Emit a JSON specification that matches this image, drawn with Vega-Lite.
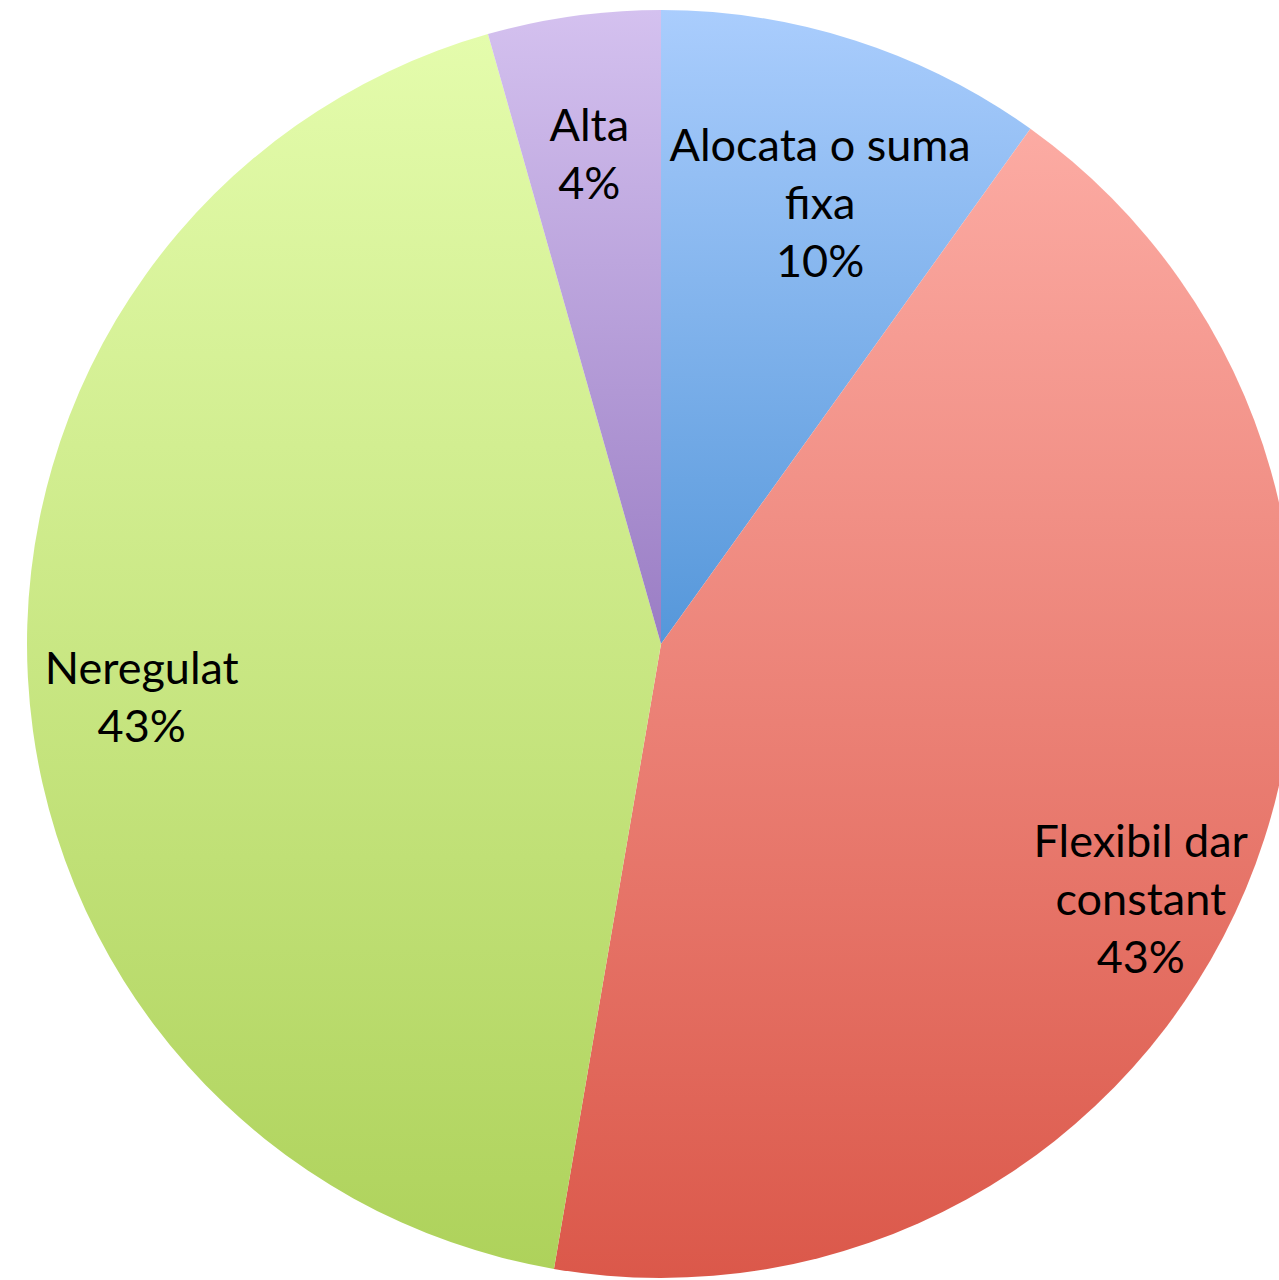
{
  "$schema": "https://vega.github.io/schema/vega-lite/v6.json",
  "width": 1279,
  "height": 1280,
  "autosize": {"type": "fit", "contains": "padding"},
  "padding": 0,
  "background": "white",
  "config": {"view": {"stroke": null}},
  "data": {
    "values": [
      {"idx": 1, "cat": "Alocata o suma fixa", "value": 9.9, "label": "Alocata o suma\nfixa\n10%"},
      {"idx": 2, "cat": "Flexibil dar constant", "value": 42.8, "label": "Flexibil dar\nconstant\n43%"},
      {"idx": 3, "cat": "Neregulat", "value": 42.9, "label": "Neregulat\n43%"},
      {"idx": 4, "cat": "Alta", "value": 4.4, "label": "Alta\n4%"}
    ]
  },
  "encoding": {
    "theta": {"field": "value", "type": "quantitative", "stack": true, "scale": {"range": [0, 6.283185307179586]}},
    "order": {"field": "idx", "type": "quantitative", "sort": "ascending"}
  },
  "layer": [
    {
      "mark": {"type": "arc", "outerRadius": 634, "x": 661, "y": 644},
      "encoding": {
        "fill": {
          "condition": [
            {"test": "datum.cat === 'Alocata o suma fixa'", "value": {"gradient": "linear", "x1": 0, "y1": 0, "x2": 0, "y2": 1, "stops": [{"offset": 0, "color": "#aacdfd"}, {"offset": 1, "color": "#5597da"}]}},
            {"test": "datum.cat === 'Flexibil dar constant'", "value": {"gradient": "linear", "x1": 0, "y1": 0, "x2": 0, "y2": 1, "stops": [{"offset": 0, "color": "#fcaba3"}, {"offset": 1, "color": "#db584a"}]}},
            {"test": "datum.cat === 'Neregulat'", "value": {"gradient": "linear", "x1": 0, "y1": 0, "x2": 0, "y2": 1, "stops": [{"offset": 0, "color": "#e4fcac"}, {"offset": 1, "color": "#aed25b"}]}}
          ],
          "value": {"gradient": "linear", "x1": 0, "y1": 0, "x2": 0, "y2": 1, "stops": [{"offset": 0, "color": "#d4c1ef"}, {"offset": 1, "color": "#9a7dc4"}]}
        }
      }
    },
    {
      "mark": {"type": "text", "radius": 520, "x": 661, "y": 644, "dy": -2, "font": "Lato", "fontSize": 45, "lineBreak": "\n", "lineHeight": 58, "align": "center", "baseline": "middle", "color": "black"},
      "encoding": {
        "text": {"field": "label", "type": "nominal"}
      }
    }
  ]
}
